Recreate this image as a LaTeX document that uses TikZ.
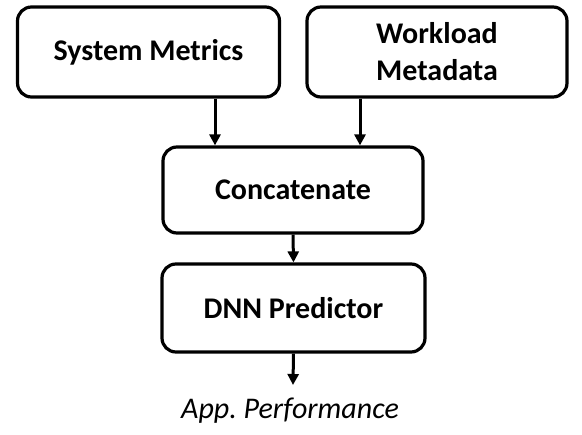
\documentclass[tikz,border=0pt]{standalone}
\usepackage{fontspec}
\setmainfont{Carlito}
\usetikzlibrary{positioning,arrows.meta,calc}

\tikzset{
  block/.style={draw, line width=3.2pt, rounded corners=14pt, align=center,
    font=\fontsize{30}{37}\selectfont\bfseries, inner sep=0pt},
  flow/.style={line width=3pt, -{Triangle[width=11pt, length=11pt]}},
}

\begin{document}
\begin{tikzpicture}[x=1pt, y=-1pt]

\useasboundingbox (0,0) rectangle (582,435);

\node[block, minimum width=262pt, minimum height=90pt] (sys) at (148.5,52) {System Metrics};
\node[block, minimum width=260pt, minimum height=90pt] (work) at (437,52) {Workload\\Metadata};
\node[block, minimum width=260pt, minimum height=86pt] (concat) at (293,190) {Concatenate};
\node[block, minimum width=263pt, minimum height=88pt] (dnn) at (293.5,308) {DNN Predictor};
\node[font=\fontsize{30}{37}\selectfont\itshape, inner sep=0pt] (perf) at (290,411) {App.\ Performance};
\coordinate (out) at (293,385);

% inputs into concat
\draw[flow] ([xshift=66.5pt]sys.south) -- ([xshift=66.5pt]sys.south |- concat.north);
\draw[flow] ([xshift=-77pt]work.south) -- ([xshift=-77pt]work.south |- concat.north);

% concat -> dnn -> output
\draw[flow] (concat.south) -- (dnn.north);
\draw[flow] (dnn.south) -- (out);

\end{tikzpicture}
\end{document}
